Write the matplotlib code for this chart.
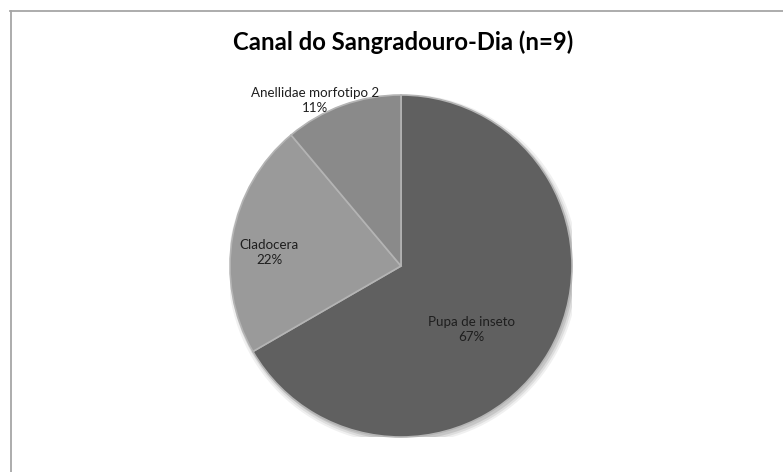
import matplotlib.pyplot as plt
from matplotlib.lines import Line2D
from matplotlib.patches import Circle

# contagens por item alimentar (n=9)
categorias = ['Pupa de inseto', 'Cladocera', 'Anellidae morfotipo 2']
contagens = [6, 2, 1]
cores = ['#606060', '#9a9a9a', '#8a8a8a']
titulo = 'Canal do Sangradouro-Dia (n=9)'

# posicao dos rotulos (em raios do grafico)
pos_rotulos = [(0.41, -0.37), (-0.77, 0.08), (-0.50, 0.97)]

plt.rcParams['font.family'] = ['Lato', 'DejaVu Sans']

W, H = 783, 472
fig = plt.figure(figsize=(W / 100, H / 100), dpi=100)

# centro (401, 266) px, raio 171 px
cx, cy, r = 401, 266, 171
ax = fig.add_axes([(cx - r) / W, (H - cy - r) / H, 2 * r / W, 2 * r / H])

# sombra suave embaixo da pizza
for i, a in enumerate([0.06, 0.08, 0.10]):
    ax.add_patch(Circle((0.012, -0.018), 1.0 + 0.012 * (2 - i), color='black',
                        alpha=a, lw=0, zorder=0))

wedges, _ = ax.pie(contagens, colors=cores, startangle=90, counterclock=False,
                   radius=1.0, wedgeprops=dict(edgecolor='#b4b4b4', linewidth=1.2))

total = sum(contagens)
for nome, c, (x, y) in zip(categorias, contagens, pos_rotulos):
    pct = round(100 * c / total)
    ax.text(x, y, f'{nome}\n{pct}%', ha='center', va='center', fontsize=9.6,
            color='#1e1e1e', linespacing=1.3, clip_on=False)

ax.set_xlim(-1, 1)
ax.set_ylim(-1, 1)
ax.set_aspect('equal')
ax.axis('off')

fig.text(403 / W, 1 - 42 / H, titulo, ha='center', va='center', fontsize=17.2,
         fontweight='bold', color='black')

# moldura da area do grafico
fig.add_artist(Line2D([10 / W, 1], [1 - 10.5 / H, 1 - 10.5 / H], color='#a6a6a6', lw=1.3))
fig.add_artist(Line2D([10.5 / W, 10.5 / W], [0, 1 - 10.5 / H], color='#a6a6a6', lw=1.3))

fig.savefig('out.png', dpi=100)
